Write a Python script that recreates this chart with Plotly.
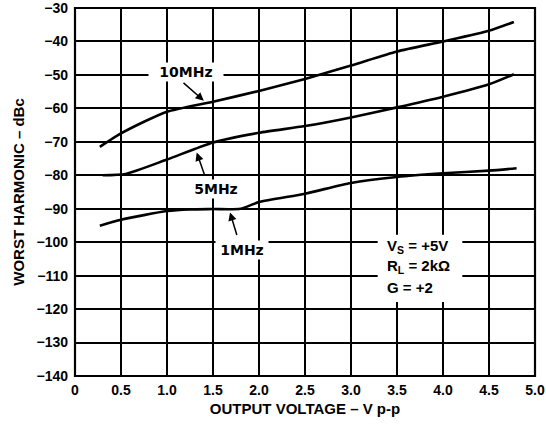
import plotly.graph_objects as go

# Output voltage (V p-p) and worst harmonic (dBc) for each test frequency
x_10mhz = [0.27, 0.5, 0.75, 1.0, 1.5, 2.0, 2.5, 3.0, 3.5, 4.0, 4.5, 4.77]
y_10mhz = [-71.5, -67.5, -64.0, -61.0, -58.0, -54.8, -51.2, -47.2, -43.0, -40.0, -36.8, -34.2]

x_5mhz = [0.3, 0.55, 1.0, 1.5, 2.0, 2.5, 3.0, 3.5, 4.0, 4.5, 4.77]
y_5mhz = [-80.0, -79.6, -75.3, -70.2, -67.3, -65.3, -62.7, -59.7, -56.5, -52.8, -49.8]

x_1mhz = [0.27, 0.5, 1.0, 1.25, 1.5, 1.8, 2.0, 2.5, 3.0, 3.5, 4.0, 4.5, 4.8]
y_1mhz = [-95.1, -93.3, -90.7, -90.2, -90.1, -90.0, -88.0, -85.5, -82.3, -80.5, -79.4, -78.6, -77.9]

x_ticks = [0, 0.5, 1.0, 1.5, 2.0, 2.5, 3.0, 3.5, 4.0, 4.5, 5.0]
x_tick_text = ["0", "0.5", "1.0", "1.5", "2.0", "2.5", "3.0", "3.5", "4.0", "4.5", "5.0"]
y_ticks = [-140, -130, -120, -110, -100, -90, -80, -70, -60, -50, -40, -30]
y_tick_text = ["\u2212" + str(abs(v)) for v in y_ticks]

conditions = ["V<sub>S</sub> = +5V", "R<sub>L</sub> = 2k\u03a9", "G = +2"]

FONT = "Liberation Sans, Arial, Helvetica, sans-serif"
LABEL_FONT = "DejaVu Sans, sans-serif"

fig = go.Figure()
for xs, ys in [(x_10mhz, y_10mhz), (x_5mhz, y_5mhz), (x_1mhz, y_1mhz)]:
    fig.add_trace(go.Scatter(
        x=xs, y=ys, mode="lines",
        line=dict(color="black", width=2.6, shape="spline", smoothing=0.6),
        hoverinfo="skip", showlegend=False,
    ))

label_font = dict(family=LABEL_FONT, size=14, color="black", weight="bold")

annotations = []
# frequency labels (white boxes break the grid behind them)
for text, x, y, w in [("10MHz", 1.21, -49.0, 72),
                      ("5MHz", 1.53, -84.1, 50),
                      ("1MHz", 1.815, -102.3, 50)]:
    annotations.append(dict(x=x, y=y, xref="x", yref="y", text=text,
                            showarrow=False, font=label_font,
                            bgcolor="white", width=w, borderpad=1))
# pointer arrows from the labels to their curves
for x, y, ax, ay in [(1.40, -57.7, 1.163, -52.0),
                     (1.323, -73.2, 1.413, -80.3),
                     (1.685, -91.1, 1.764, -98.3)]:
    annotations.append(dict(x=x, y=y, ax=ax, ay=ay, xref="x", yref="y",
                            axref="x", ayref="y", text="", showarrow=True,
                            arrowhead=2, arrowsize=1.1, arrowwidth=1.5,
                            arrowcolor="black", standoff=0))
# test conditions
for text, y in zip(conditions, [-101.2, -107.3, -113.6]):
    annotations.append(dict(x=3.37, y=y, xref="x", yref="y", text=text,
                            xanchor="left", showarrow=False,
                            font=dict(family=FONT, size=15, color="black", weight="bold")))

# white panel behind the test conditions
fig.add_shape(type="rect", x0=3.29, x1=4.21, y0=-117.9, y1=-97.8,
              xref="x", yref="y", fillcolor="white", line=dict(width=0),
              layer="above")
# plot frame
fig.add_shape(type="rect", x0=0, x1=1, y0=0, y1=1,
              xref="x domain", yref="y domain",
              line=dict(color="black", width=2.2), fillcolor="rgba(0,0,0,0)",
              layer="above")

fig.update_layout(
    width=546, height=427,
    margin=dict(l=75, r=11, t=8, b=51, autoexpand=False),
    paper_bgcolor="white", plot_bgcolor="white",
    annotations=annotations,
    font=dict(family=FONT, color="black"),
)

tick_font = dict(family=FONT, size=14, color="black", weight="bold")
title_font = dict(family=FONT, size=15, color="black", weight="bold")

fig.update_xaxes(
    range=[0, 5], tickvals=x_ticks, ticktext=x_tick_text,
    showgrid=True, gridcolor="black", gridwidth=1.5,
    showline=False, zeroline=False, ticks="", tickfont=tick_font,
    ticklabelstandoff=4, ticklabeloverflow="allow", automargin=False,
    title=dict(text="OUTPUT VOLTAGE \u2013 V p-p", font=title_font, standoff=6),
)
fig.update_yaxes(
    range=[-140, -30], tickvals=y_ticks, ticktext=y_tick_text,
    showgrid=True, gridcolor="black", gridwidth=1.5,
    showline=False, zeroline=False, ticks="", tickfont=tick_font,
    ticklabelstandoff=6, ticklabeloverflow="allow", automargin=False,
    title=dict(text="WORST HARMONIC \u2013 dBc", font=title_font, standoff=8),
)

fig.write_html("out.html")
